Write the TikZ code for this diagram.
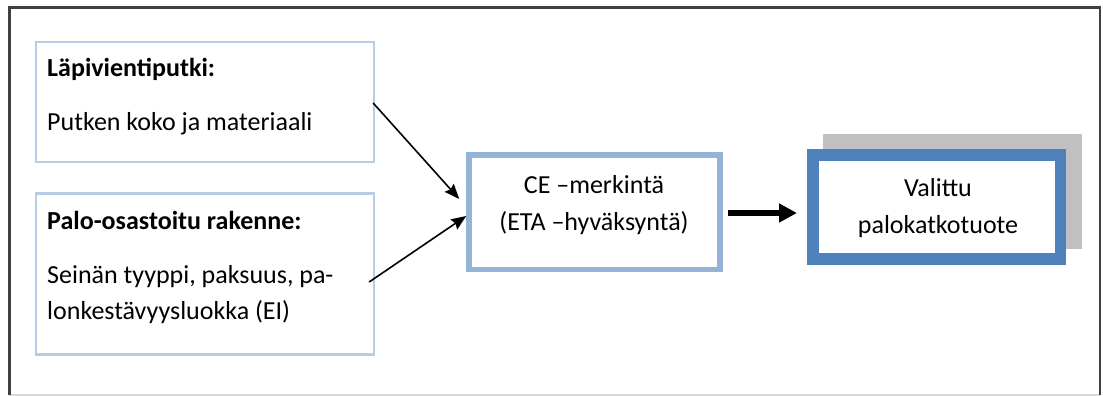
\documentclass[tikz,border=0pt]{standalone}
\usepackage{fontspec}
\setmainfont{Carlito}
\usetikzlibrary{arrows.meta,calc}
\definecolor{lightbord}{HTML}{B8CCE4}
\definecolor{ceblue}{HTML}{95B3D7}
\definecolor{darkblue}{HTML}{4F81BD}
\definecolor{shadowgray}{HTML}{C0C0C0}
\definecolor{framedark}{HTML}{404040}
\definecolor{framelight}{HTML}{D9D9D9}
\tikzset{
  inbox/.style={draw=lightbord, line width=2.3pt, fill=white, inner sep=0pt},
  cebox/.style={draw=ceblue, line width=5.5pt, fill=white, inner sep=0pt},
  resbox/.style={draw=darkblue, line width=11.5pt, fill=white, inner sep=0pt},
  shadowbox/.style={fill=shadowgray, draw=none, inner sep=0pt},
  txt/.style={inner sep=0pt, font=\fontsize{26pt}{31pt}\selectfont, text=black},
  thinarrow/.style={draw=black, line width=1.6pt, -{Stealth[length=15pt,width=12pt,inset=2pt]}},
  thickarrow/.style={draw=black, line width=5.5pt, -{Triangle[length=18pt,width=18pt]}},
}
\begin{document}
\begin{tikzpicture}[x=1pt,y=-1pt]
\useasboundingbox (0,0) rectangle (1103,396);
% outer frame
\draw[framelight, line width=1.5pt] (9.3,395) -- (1100,395);
\draw[framedark, line width=2.5pt] (9.3,395) -- (9.3,7.5) -- (1100,7.5) -- (1100,395);

% input boxes
\node[inbox, minimum width=338pt, minimum height=120pt] (box1) at (205,102) {};
\node[inbox, minimum width=338pt, minimum height=161pt] (box2) at (205,274) {};

\node[txt, anchor=base west, font=\fontsize{26pt}{31pt}\selectfont\bfseries] (t1a) at (47,77) {Läpivientiputki:};
\node[txt, anchor=base west] (t1b) at (47,130) {Putken koko ja materiaali};
\node[txt, anchor=base west, font=\fontsize{26pt}{31pt}\selectfont\bfseries] (t2a) at (47,229) {Palo-osastoitu rakenne:};
\node[txt, anchor=base west] (t2b) at (47,283) {Seinän tyyppi, paksuus, pa-};
\node[txt, anchor=base west] (t2c) at (47,319.5) {lonkestävyysluokka (EI)};

% CE box
\node[cebox, minimum width=251pt, minimum height=114.5pt] (ce) at (594.5,212) {};
\node[txt, anchor=base] (cea) at (594,193) {CE –merkintä};
\node[txt, anchor=base] (ceb) at (594,230) {(ETA –hyväksyntä)};

% result box with shadow
\node[shadowbox, minimum width=259pt, minimum height=115pt] (sh) at (952.5,191.5) {};
\node[resbox, minimum width=247.5pt, minimum height=104pt] (vb) at (936.5,207) {};
\node[txt, anchor=base] (va) at (938,196) {Valittu};
\node[txt, anchor=base] (vbt) at (938,233) {palokatkotuote};

% connectors
\draw[thinarrow] ($(box1.east)+(-2,1)$) -- ($(ce.west)+(-7,-13)$);
\draw[thinarrow] ($(box2.east)+(-6,8)$) -- ($(ce.west)+(0,4)$);
\draw[thickarrow] ($(ce.east)+(5,1)$) -- ($(vb.west)+(-10,6)$);
\end{tikzpicture}
\end{document}
